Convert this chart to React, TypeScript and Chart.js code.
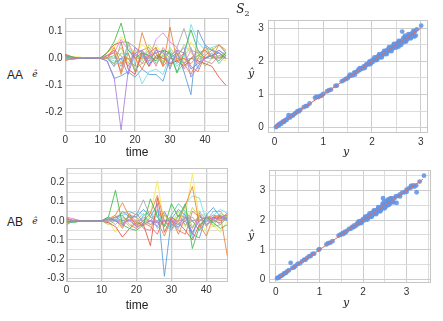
import React, { useEffect, useRef } from 'react';
import { Chart, registerables } from 'chart.js';
Chart.register(...registerables);

const timeSteps = [0, 2, 4, 6, 8, 10, 12, 14, 16, 18, 20, 22, 24, 26, 28, 30, 32, 34, 36, 38, 40, 42, 44, 46];

const seriesColors = [
  '#a47de0', '#3dba4e', '#ef8133', '#a5a5a5', '#76dde8', '#5a9ad8', '#e57fe0',
  '#e6523c', '#f4e74e', '#8fd46a', '#f06a55', '#55c8a8', '#7f86e3', '#dd8a3c',
  '#b5d94a', '#6fb8e8', '#e8799a',
];

const aaResiduals: number[][] = [
  [0.005, 0, 0, 0, 0, 0, -0.01, -0.07, -0.265, -0.05, 0.04, 0.02, -0.01, 0.03, 0.02, -0.02, 0.01, 0.04, -0.07, -0.03, 0.0, 0.01, 0.02, 0.0],
  [0.01, 0.005, 0, 0, 0, 0, 0.02, 0.06, 0.13, 0.03, 0.0, 0.02, 0.01, -0.01, 0.03, 0.02, -0.055, 0.02, 0.105, 0.03, 0.0, 0.01, -0.01, 0.02],
  [-0.01, 0, 0, 0, 0, 0, 0.0, 0.04, -0.02, 0.0, -0.03, 0.095, 0.02, 0.04, -0.03, 0.115, -0.01, 0.0, -0.02, 0.01, 0.03, 0.0, 0.05, 0.02],
  [0, 0, 0, 0, 0, 0, 0.005, -0.03, 0.06, 0.06, 0.04, 0.01, 0.0, 0.02, 0.03, 0.0, 0.04, 0.11, 0.03, 0.02, 0.03, 0.01, 0.02, 0.0],
  [0.0, 0, 0, 0, 0, 0, 0.0, -0.01, -0.02, 0.05, -0.02, -0.095, -0.05, -0.04, -0.06, 0.01, -0.03, 0.0, 0.125, 0.06, 0.03, 0.04, 0.05, 0.02],
  [0.0, -0.005, 0, 0, 0, 0, -0.01, -0.075, -0.065, -0.05, -0.07, -0.04, -0.06, -0.06, -0.085, 0.0, 0.02, -0.05, -0.135, 0.105, 0.05, 0.03, 0.02, 0.0],
  [0.0, 0, 0, 0, 0, 0, 0.01, 0.02, 0.07, 0.03, 0.01, 0.03, 0.0, 0.07, 0.094, 0.06, 0.04, -0.02, 0.03, -0.02, 0.0, 0.01, 0.0, 0.02],
  [0.015, 0.005, 0, 0, 0, 0, 0.02, 0.05, 0.06, -0.04, -0.06, 0.02, -0.03, 0.01, 0.0, -0.02, -0.01, -0.03, 0.0, -0.01, -0.02, -0.03, -0.07, -0.1],
  [0.0, 0.005, 0.005, 0, 0, 0, 0.02, 0.04, 0.08, 0.05, 0.02, 0.05, 0.03, 0.05, 0.01, 0.0, 0.02, -0.01, 0.06, 0.02, 0.0, 0.01, 0.0, -0.01],
  [0, 0, 0, 0, 0, 0, 0.0, -0.02, 0.02, 0.0, -0.04, -0.02, -0.01, 0.0, -0.01, -0.03, 0.0, -0.02, 0.0, 0.02, -0.03, 0.0, 0.01, 0.02],
  [-0.005, 0, 0, 0, 0, 0, 0.01, 0.02, -0.05, 0.06, 0.0, -0.04, 0.01, 0.02, -0.03, 0.0, -0.01, 0.02, -0.03, -0.05, 0.01, 0.03, 0.0, 0.01],
  [0.01, 0, 0, 0, 0, 0, 0.0, 0.01, -0.03, 0.03, 0.01, 0.0, 0.03, -0.02, 0.01, 0.02, -0.05, -0.02, 0.0, 0.01, 0.0, 0.02, -0.02, 0.01],
  [0, 0, 0, 0, 0, 0, 0.0, -0.02, 0.0, -0.06, 0.02, 0.03, -0.02, 0.0, 0.03, -0.04, 0.03, 0.02, -0.04, -0.02, 0.0, 0.01, 0.03, 0.01],
  [0.005, 0, 0, 0, 0, 0, 0.01, 0.03, -0.06, 0.02, -0.05, 0.03, 0.04, 0.0, 0.01, -0.03, 0.02, -0.02, -0.06, 0.0, 0.04, 0.03, 0.05, 0.03],
  [0, 0, 0, 0, 0, 0, 0.01, 0.0, 0.04, -0.02, 0.03, -0.01, 0.05, 0.02, -0.02, 0.04, 0.0, 0.05, 0.02, -0.01, 0.02, 0.04, 0.0, 0.03],
  [0, 0, 0, 0, 0, 0, 0.0, -0.03, 0.0, 0.02, -0.05, 0.01, -0.03, 0.04, -0.02, 0.03, -0.02, 0.01, 0.04, -0.04, 0.05, 0.0, 0.03, 0.01],
  [0.01, 0, 0, 0, 0, 0, 0.0, 0.03, 0.01, -0.03, 0.02, -0.02, 0.02, -0.03, 0.04, 0.01, 0.03, -0.04, 0.0, 0.03, -0.01, -0.02, 0.01, 0.0],
];

const abResiduals: number[][] = [
  [0.01, 0.0, 0.0, 0, 0, 0.0, 0.01, 0.0, -0.02, 0.01, -0.03, -0.02, 0.0, -0.01, 0.0, 0.0, -0.02, 0.02, -0.06, 0.0, 0.02, 0.01, 0.02, 0.01],
  [0.0, -0.01, 0, 0, 0, 0, 0.02, 0.16, -0.02, -0.04, -0.05, -0.02, 0.115, 0.02, -0.03, 0.09, 0.02, 0.09, -0.145, -0.03, 0.02, -0.01, -0.04, -0.02],
  [-0.01, 0.0, 0, 0, 0, 0, 0.01, 0.03, 0.095, 0.02, -0.02, 0.0, 0.04, 0.133, 0.0, -0.04, 0.0, 0.08, 0.18, -0.02, -0.08, 0.02, 0.03, -0.185],
  [0, 0, 0, 0, 0, 0, 0.0, 0.02, 0.04, 0.05, 0.03, 0.11, 0.02, -0.01, -0.02, -0.05, 0.03, 0.02, 0.0, 0.01, -0.02, 0.0, 0.01, 0.03],
  [0.01, 0, 0, 0, 0, 0, 0.0, 0.0, 0.03, 0.04, 0.05, 0.03, 0.04, 0.02, 0.0, -0.05, 0.0, 0.09, 0.13, 0.12, 0.0, 0.03, 0.06, 0.04],
  [-0.02, 0.0, 0, 0, 0, 0, 0.02, 0.0, 0.05, 0.02, 0.02, 0.06, 0.02, 0.09, -0.29, 0.01, 0.06, 0.03, -0.07, -0.09, 0.03, 0.07, 0.02, 0.0],
  [0.02, 0.01, 0, 0, 0, 0, 0.0, 0.01, -0.01, 0.0, 0.0, 0.01, 0.0, 0.0, 0.0, 0.0, 0.0, 0.01, 0.02, -0.03, 0.0, 0.01, 0.02, 0.03],
  [0.015, 0.0, 0, 0, 0, 0, -0.01, -0.03, -0.085, -0.04, -0.01, -0.02, -0.13, 0.12, -0.06, 0.02, -0.01, -0.05, -0.1, -0.02, 0.0, 0.02, 0.01, 0.04],
  [0.0, 0.01, 0, 0, 0, 0, 0.0, -0.06, 0.02, -0.02, 0.01, -0.03, 0.04, 0.21, -0.03, 0.02, 0.01, 0.03, 0.245, 0.01, -0.06, -0.02, -0.06, 0.0],
  [0, 0, 0, 0, 0, 0, -0.02, 0.0, 0.01, -0.03, 0.0, -0.03, 0.02, 0.0, 0.03, 0.0, -0.02, 0.05, -0.03, 0.0, 0.02, -0.03, -0.02, 0.02],
  [0.0, 0.01, 0, 0, 0, 0, 0.0, 0.02, 0.03, -0.02, -0.04, -0.01, -0.03, -0.07, 0.03, 0.0, -0.05, -0.07, 0.05, 0.02, 0.01, 0.03, 0.02, 0.03],
  [-0.01, 0, 0, 0, 0, 0, 0.01, 0.0, 0.0, 0.02, -0.01, 0.02, 0.0, 0.05, -0.02, 0.03, 0.09, 0.05, 0.0, -0.05, 0.0, -0.01, 0.03, 0.01],
  [0.0, 0, 0, 0, 0, 0, 0.0, 0.02, 0.0, 0.0, 0.04, -0.01, 0.0, -0.03, 0.05, -0.02, -0.03, 0.0, -0.07, 0.03, -0.02, 0.01, -0.02, 0.02],
  [0.01, 0, 0, 0, 0, 0, 0.0, 0.0, -0.03, 0.04, -0.03, 0.0, -0.02, 0.0, -0.08, 0.01, -0.07, 0.02, -0.04, 0.04, -0.03, 0.02, 0.0, 0.02],
  [0, 0, 0, 0, 0, 0, 0.0, 0.03, -0.02, 0.03, 0.0, 0.04, -0.02, 0.03, 0.04, -0.02, 0.05, -0.03, 0.07, 0.02, 0.04, -0.03, 0.04, 0.02],
  [0, 0, 0, 0, 0, 0, 0.01, -0.02, 0.02, 0.0, -0.03, 0.03, 0.05, -0.04, 0.0, 0.02, -0.04, 0.04, -0.09, 0.05, 0.0, 0.05, 0.05, 0.0],
  [0.01, 0, 0, 0, 0, 0, -0.01, 0.01, -0.04, 0.03, 0.02, -0.04, -0.05, 0.06, 0.0, -0.03, 0.03, -0.02, 0.0, -0.05, 0.03, 0.0, -0.01, 0.03],
];

const aaObserved = [
  0.03, 0.05, 0.07, 0.09, 0.1, 0.12, 0.14, 0.16, 0.18, 0.2, 0.22, 0.25, 0.28, 0.29, 0.32, 0.35, 0.38, 0.41, 0.44, 0.47,
  0.5, 0.53, 0.6, 0.64, 0.67, 0.72, 0.83, 0.86, 0.9, 0.94, 0.97, 1.0, 1.08, 1.12, 1.16, 1.25, 1.28, 1.38, 1.42, 1.46,
  1.5, 1.53, 1.56, 1.6, 1.63, 1.66, 1.7, 1.72, 1.75, 1.78, 1.8, 1.83, 1.86, 1.88, 1.9, 1.93, 1.95, 1.98, 2.0, 2.02,
  2.05, 2.07, 2.1, 2.12, 2.14, 2.16, 2.18, 2.2, 2.22, 2.24, 2.26, 2.28, 2.3, 2.32, 2.34, 2.36, 2.38, 2.4, 2.42, 2.44,
  2.46, 2.48, 2.5, 2.52, 2.54, 2.56, 2.58, 2.6, 2.62, 2.63, 2.65, 2.67, 2.69, 2.71, 2.73, 2.75, 2.77, 2.79, 2.81, 2.83,
  2.85, 2.88, 2.9, 2.92, 3.01,
  2.05, 2.1, 2.15, 2.2, 2.25, 2.3, 2.35, 2.4, 2.45, 2.5, 2.55, 2.6, 2.65, 2.7, 2.75, 2.8, 2.85, 2.87, 2.55, 2.68,
  1.55, 1.65, 1.75, 1.85, 1.95, 1.97,
];
const aaPredicted = [
  0.02, 0.04, 0.08, 0.07, 0.11, 0.13, 0.12, 0.17, 0.19, 0.18, 0.23, 0.24, 0.3, 0.38, 0.31, 0.36, 0.37, 0.42, 0.45, 0.5,
  0.49, 0.54, 0.62, 0.65, 0.66, 0.73, 0.9, 0.94, 0.92, 0.96, 0.97, 1.02, 1.1, 1.13, 1.15, 1.26, 1.27, 1.4, 1.43, 1.47,
  1.49, 1.55, 1.57, 1.58, 1.65, 1.68, 1.69, 1.75, 1.74, 1.8, 1.78, 1.85, 1.84, 1.9, 1.92, 1.91, 1.97, 1.96, 2.03, 1.99,
  2.07, 2.04, 2.13, 2.09, 2.18, 2.13, 2.2, 2.16, 2.25, 2.21, 2.28, 2.24, 2.33, 2.29, 2.37, 2.32, 2.41, 2.37, 2.46, 2.4,
  2.49, 2.44, 2.54, 2.48, 2.57, 2.5, 2.61, 2.55, 2.9, 2.66, 2.58, 2.7, 2.63, 2.74, 2.67, 2.79, 2.71, 2.82, 2.76, 2.86,
  2.8, 2.9, 2.78, 2.97, 3.08,
  2.12, 2.04, 2.22, 2.12, 2.32, 2.22, 2.43, 2.31, 2.53, 2.42, 2.62, 2.5, 2.72, 2.6, 2.82, 2.7, 2.92, 2.75, 2.45, 2.78,
  1.6, 1.6, 1.8, 1.8, 2.0, 1.92,
];

const abObserved = [
  0.03, 0.05, 0.08, 0.1, 0.12, 0.15, 0.18, 0.2, 0.23, 0.26, 0.3, 0.34, 0.38, 0.42, 0.45, 0.5, 0.55, 0.6, 0.65, 0.68,
  0.72, 0.76, 0.8, 0.84, 0.88, 0.98, 1.0, 1.16, 1.2, 1.25, 1.3, 1.44, 1.47, 1.5, 1.53, 1.55, 1.58, 1.6, 1.63, 1.68,
  1.72, 1.75, 1.78, 1.8, 1.83, 1.86, 1.88, 1.9, 1.93, 1.95, 1.98, 2.0, 2.02, 2.05, 2.07, 2.1, 2.12, 2.15, 2.17, 2.2,
  2.22, 2.25, 2.27, 2.3, 2.32, 2.35, 2.37, 2.4, 2.42, 2.45, 2.46, 2.47, 2.5, 2.52, 2.55, 2.57, 2.6, 2.62, 2.65, 2.68,
  2.72, 2.77, 2.8, 2.85, 2.9, 2.95, 3.0, 3.05, 3.1, 3.15, 3.18, 3.22, 3.23, 3.3, 3.4,
  2.05, 2.1, 2.15, 2.2, 2.25, 2.3, 2.35, 2.4, 2.45, 2.5, 2.55, 2.6, 2.65, 2.7, 2.58, 2.62, 2.48, 1.9, 1.96, 2.75,
  2.85, 3.0, 3.1,
];
const abPredicted = [
  0.04, 0.06, 0.07, 0.11, 0.13, 0.14, 0.19, 0.21, 0.22, 0.27, 0.31, 0.56, 0.39, 0.41, 0.46, 0.52, 0.54, 0.61, 0.67, 0.66,
  0.73, 0.78, 0.79, 0.86, 0.87, 1.0, 1.02, 1.18, 1.22, 1.24, 1.29, 1.48, 1.5, 1.52, 1.56, 1.53, 1.6, 1.58, 1.64, 1.7,
  1.71, 1.77, 1.76, 1.82, 1.8, 1.88, 1.86, 1.92, 1.9, 1.97, 1.95, 2.03, 1.99, 2.08, 2.03, 2.13, 2.07, 2.18, 2.12, 2.24,
  2.17, 2.29, 2.22, 2.34, 2.26, 2.39, 2.31, 2.44, 2.36, 2.49, 2.74, 2.41, 2.55, 2.46, 2.6, 2.5, 2.64, 2.56, 2.68, 2.62,
  2.74, 2.58, 2.82, 2.87, 2.93, 2.94, 3.03, 3.07, 3.1, 3.17, 3.13, 3.17, 2.94, 3.3, 3.5,
  2.12, 2.02, 2.23, 2.11, 2.33, 2.2, 2.44, 2.3, 2.55, 2.4, 2.65, 2.52, 2.74, 2.6, 2.7, 2.72, 2.62, 1.96, 1.9, 2.8,
  2.8, 2.95, 3.15,
];

const aaLineRange = [-0.2, 46.6];
const abLineRange = [0, 46.1];
const aaResidualRange = [-0.273, 0.149];
const abResidualRange = [-0.32, 0.275];
const aaResidualTicks = [-0.25, -0.2, -0.15, -0.1, -0.05, 0, 0.05, 0.1];
const abResidualTicks = [-0.3, -0.25, -0.2, -0.15, -0.1, -0.05, 0, 0.05, 0.1, 0.15, 0.2, 0.25];
const timeTicks = [0, 10, 20, 30, 40];
const aaScatterX = [-0.14, 3.15];
const aaScatterY = [-0.16, 3.25];
const abScatterX = [-0.15, 3.56];
const abScatterY = [-0.13, 3.69];
const aaScatterTicks = [0, 0.5, 1, 1.5, 2, 2.5, 3];
const abScatterTicks = [0, 0.5, 1, 1.5, 2, 2.5, 3, 3.5];
const aaDiagonal = [0.03, 3.0];
const abDiagonal = [0.03, 3.38];

Chart.defaults.font.family = "'Liberation Sans', Arial, sans-serif";
Chart.defaults.font.size = 10;
Chart.defaults.color = '#333';

const framePlugin = {
  id: 'frame',
  beforeDatasetsDraw(chart: any) {
    const { ctx, chartArea } = chart;
    const { left, top, right, bottom } = chartArea;
    ctx.save();
    ctx.strokeStyle = '#c6c6c6';
    ctx.lineWidth = 1;
    ctx.strokeRect(Math.round(left) + 0.5, Math.round(top) + 0.5, Math.round(right - left) - 1, Math.round(bottom - top) - 1);
    ctx.restore();
  },
};

const isMultiple = (v: number, step: number) => Math.abs(v / step - Math.round(v / step)) < 1e-6;

function withAlpha(hex: string, a: number) {
  const n = parseInt(hex.slice(1), 16);
  return `rgba(${(n >> 16) & 255},${(n >> 8) & 255},${n & 255},${a})`;
}

function lineConfig(series: number[][], xr: number[], yr: number[], yTicks: number[], yw: number, pad: any) {
  return {
    type: 'line',
    data: {
      datasets: series.map((vals, i) => ({
        data: vals.map((v, j) => ({ x: timeSteps[j], y: v })),
        borderColor: withAlpha(seriesColors[i], 0.85),
        borderWidth: 1,
        pointRadius: 0,
        fill: false,
        tension: 0,
      })),
    },
    options: {
      animation: false,
      responsive: false,
      events: [],
      layout: { padding: pad },
      plugins: { legend: { display: false }, tooltip: { enabled: false } },
      scales: {
        x: {
          type: 'linear',
          min: xr[0],
          max: xr[1],
          afterBuildTicks: (s: any) => { s.ticks = timeTicks.map((v) => ({ value: v })); },
          afterFit: (s: any) => { s.height = 28; },
          ticks: { padding: 2, autoSkip: false, maxRotation: 0, callback: (v: any) => String(v) },
          grid: { color: '#cbcbcb', lineWidth: 1.3, drawTicks: false },
          border: { display: false },
        },
        y: {
          type: 'linear',
          min: yr[0],
          max: yr[1],
          afterBuildTicks: (s: any) => { s.ticks = yTicks.map((v) => ({ value: v })); },
          afterFit: (s: any) => { s.width = yw; },
          ticks: {
            padding: 2,
            autoSkip: false,
            callback: (v: any) => (isMultiple(v, 0.1) ? Number(v).toFixed(1) : ''),
          },
          grid: {
            drawTicks: false,
            color: (c: any) => (c.tick && isMultiple(c.tick.value, 0.1) ? '#d0d0d0' : '#e0e0e0'),
            lineWidth: 1,
          },
          border: { display: false },
        },
      },
    },
    plugins: [framePlugin],
  };
}

function scatterConfig(obs: number[], pred: number[], diag: number[], xr: number[], yr: number[], ticks: number[], yw: number, xh: number, pad: any) {
  const gridColor = (c: any) => (c.tick && isMultiple(c.tick.value, 1) ? '#cdcdcd' : '#dcdcdc');
  return {
    type: 'scatter',
    data: {
      datasets: [
        {
          type: 'line',
          data: diag.map((v) => ({ x: v, y: v })),
          borderColor: '#e36b63',
          borderWidth: 1,
          pointRadius: 0,
          fill: false,
        },
        {
          data: obs.map((v, i) => ({ x: v, y: pred[i] })),
          backgroundColor: 'rgba(98,148,228,0.88)',
          borderWidth: 0,
          pointRadius: 2.4,
        },
      ],
    },
    options: {
      animation: false,
      responsive: false,
      events: [],
      layout: { padding: pad },
      plugins: { legend: { display: false }, tooltip: { enabled: false } },
      scales: {
        x: {
          type: 'linear',
          min: xr[0],
          max: xr[1],
          afterBuildTicks: (s: any) => { s.ticks = ticks.map((v) => ({ value: v })); },
          afterFit: (s: any) => { s.height = xh; },
          ticks: { padding: 3, autoSkip: false, maxRotation: 0, callback: (v: any) => (isMultiple(v, 1) ? String(v) : '') },
          grid: { color: gridColor, lineWidth: 1, drawTicks: false },
          border: { display: false },
        },
        y: {
          type: 'linear',
          min: yr[0],
          max: yr[1],
          afterBuildTicks: (s: any) => { s.ticks = ticks.map((v) => ({ value: v })); },
          afterFit: (s: any) => { s.width = yw; },
          ticks: { padding: 4, autoSkip: false, callback: (v: any) => (isMultiple(v, 1) ? String(v) : '') },
          grid: { color: gridColor, lineWidth: 1, drawTicks: false },
          border: { display: false },
        },
      },
    },
    plugins: [framePlugin],
  };
}

function ChartBox({ left, top, width, height, config }: any) {
  const ref = useRef<HTMLCanvasElement>(null);
  useEffect(() => {
    if (!ref.current) return;
    const chart = new Chart(ref.current, config);
    return () => chart.destroy();
  }, []);
  return (
    <canvas
      ref={ref}
      width={width}
      height={height}
      style={{ position: 'absolute', left, top, width, height }}
    />
  );
}

const sans = "'Liberation Sans', Arial, sans-serif";
const serif = "'DejaVu Serif', 'Liberation Serif', serif";

function Label({ x, y, children, style }: any) {
  return (
    <div
      style={{
        position: 'absolute',
        left: x,
        top: y,
        transform: 'translate(-50%, -50%)',
        whiteSpace: 'nowrap',
        lineHeight: 1,
        color: '#222',
        ...style,
      }}
    >
      {children}
    </div>
  );
}

export default function App() {
  return (
    <div style={{ position: 'absolute', left: 0, top: 0, width: 443, height: 321, background: '#fff', overflow: 'hidden' }}>
      <ChartBox left={40} top={10} width={192} height={150}
        config={lineConfig(aaResiduals, aaLineRange, aaResidualRange, aaResidualTicks, 24.5, { top: 8, right: 4, left: 0, bottom: 0 })} />
      <ChartBox left={240} top={10} width={200} height={150}
        config={scatterConfig(aaObserved, aaPredicted, aaDiagonal, aaScatterX, aaScatterY, aaScatterTicks, 27.7, 27, { top: 10, right: 12, left: 0, bottom: 0 })} />
      <ChartBox left={40} top={160} width={192} height={150}
        config={lineConfig(abResiduals, abLineRange, abResidualRange, abResidualTicks, 26.5, { top: 8.3, right: 4.3, left: 0, bottom: 0 })} />
      <ChartBox left={240} top={160} width={200} height={150}
        config={scatterConfig(abObserved, abPredicted, abDiagonal, abScatterX, abScatterY, abScatterTicks, 29.3, 26.7, { top: 9.3, right: 9, left: 0, bottom: 0 })} />

      <Label x={243} y={9} style={{ fontFamily: serif, fontSize: 12 }}>
        <i>S</i><span style={{ fontSize: 8, position: 'relative', top: 3 }}>2</span>
      </Label>

      <Label x={15} y={75} style={{ fontFamily: sans, fontSize: 12 }}>AA</Label>
      <Label x={35} y={74} style={{ fontFamily: serif, fontSize: 9, fontStyle: 'italic' }}>ê</Label>
      <Label x={137} y={152} style={{ fontFamily: sans, fontSize: 12 }}>time</Label>
      <Label x={251} y={73} style={{ fontFamily: serif, fontSize: 11, fontStyle: 'italic' }}>ŷ</Label>
      <Label x={346} y={151} style={{ fontFamily: serif, fontSize: 11, fontStyle: 'italic' }}>y</Label>

      <Label x={15} y={222} style={{ fontFamily: sans, fontSize: 12 }}>AB</Label>
      <Label x={35} y={221} style={{ fontFamily: serif, fontSize: 9, fontStyle: 'italic' }}>ê</Label>
      <Label x={137} y={305} style={{ fontFamily: sans, fontSize: 12 }}>time</Label>
      <Label x={251} y={235} style={{ fontFamily: serif, fontSize: 11, fontStyle: 'italic' }}>ŷ</Label>
      <Label x={346} y={302} style={{ fontFamily: serif, fontSize: 11, fontStyle: 'italic' }}>y</Label>
    </div>
  );
}
